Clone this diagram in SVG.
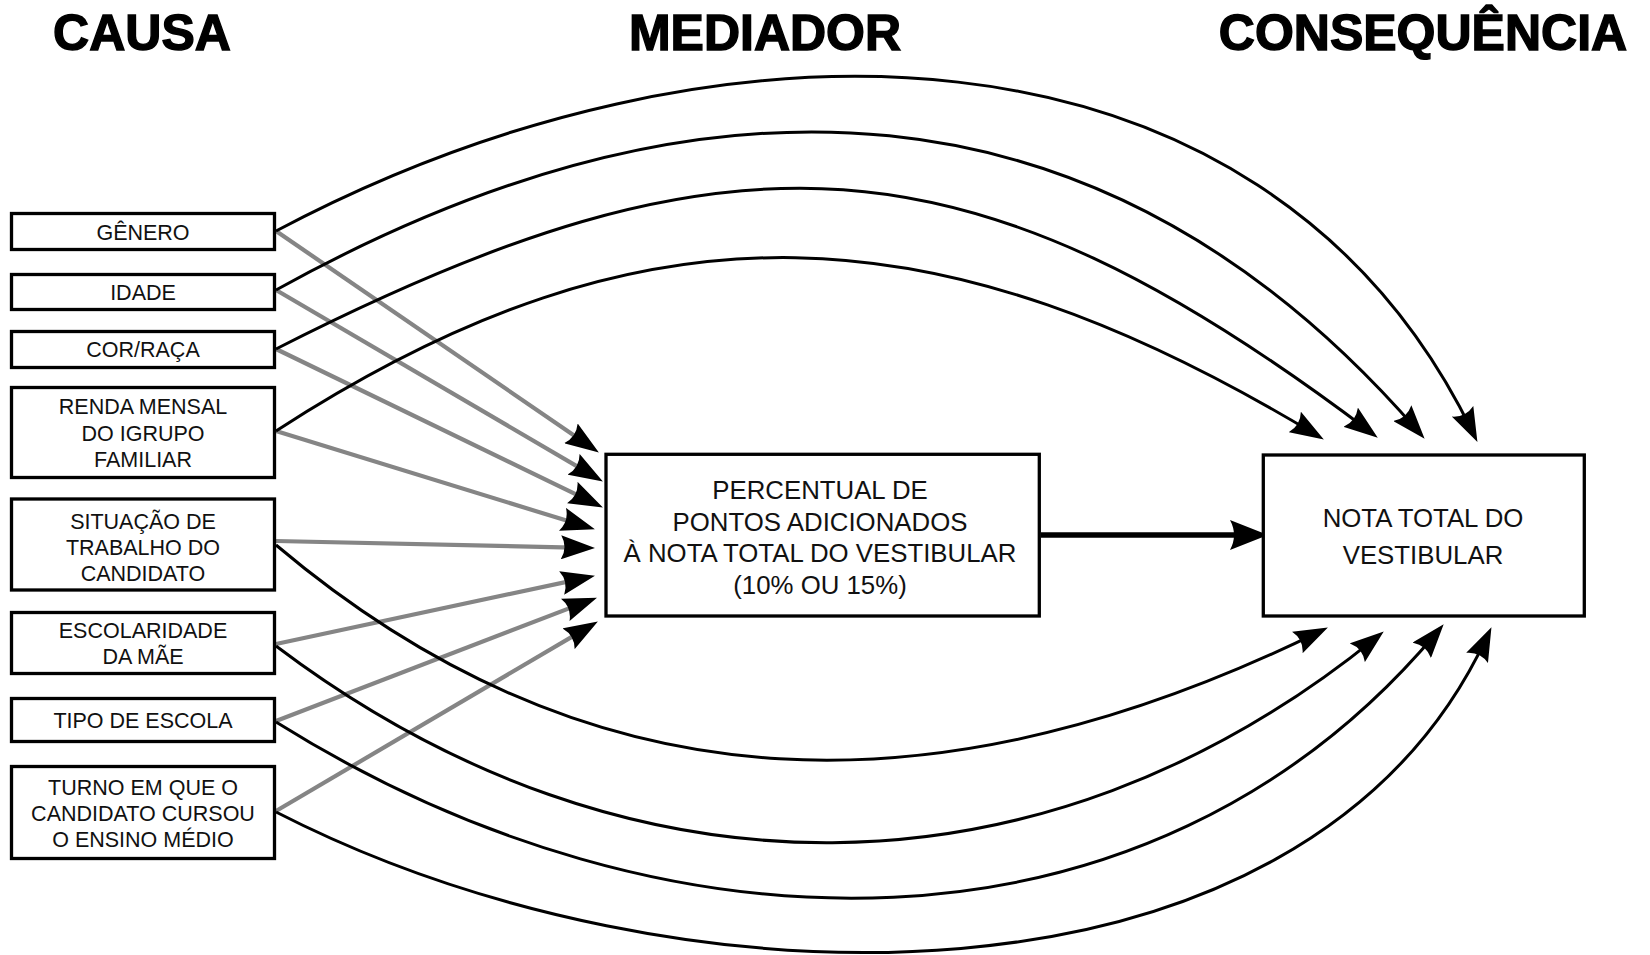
<svg xmlns="http://www.w3.org/2000/svg" width="1650" height="955" viewBox="0 0 1650 955">
<style>
.title{font-family:"Liberation Sans",Arial,sans-serif;font-weight:bold;font-size:50px;fill:#000;stroke:#000;stroke-width:1.4;text-anchor:middle}
.box{fill:#fff;stroke:#000;stroke-width:3.3}
.lbl{font-family:"Liberation Sans",Arial,sans-serif;font-size:21.5px;fill:#111;text-anchor:middle}
.big{font-family:"Liberation Sans",Arial,sans-serif;font-size:25.8px;fill:#111;text-anchor:middle}
.gray{fill:none;stroke:#858585;stroke-width:4.2;marker-end:url(#ah)}
.blk{fill:none;stroke:#000;stroke-width:3;marker-end:url(#ah)}
.thick{fill:none;stroke:#000;stroke-width:5.5;marker-end:url(#ahb)}
</style>
<defs>
<marker id="ah" markerUnits="userSpaceOnUse" markerWidth="34" markerHeight="24" viewBox="0 0 34 24" refX="23" refY="12" orient="auto">
<path d="M0,0 L34,12 L0,24 Q7,12 0,0Z" fill="#000"/>
</marker>
<marker id="ahb" markerUnits="userSpaceOnUse" markerWidth="38" markerHeight="30" viewBox="0 0 38 30" refX="27" refY="15" orient="auto">
<path d="M0,0 L38,15 L0,30 Q8,15 0,0Z" fill="#000"/>
</marker>
</defs>
<rect width="1650" height="955" fill="#fff"/>
<g id="titles">
<text class="title" x="142" y="49.5">CAUSA</text>
<text class="title" x="765" y="49.5">MEDIADOR</text>
<text class="title" x="1423" y="49.5">CONSEQUÊNCIA</text>
</g>
<g id="connectors">
<path class="gray" d="M276,231 L589.8,446.3"/>
<path class="gray" d="M276,290 L593.4,475.9"/>
<path class="gray" d="M276,349 L593,502.6"/>
<path class="gray" d="M276,431 L584.4,526.1"/>
<path class="gray" d="M276,541 L584,547.8"/>
<path class="gray" d="M276,644 L584.2,578.1"/>
<path class="gray" d="M276,721 L586.7,601.6"/>
<path class="gray" d="M276,811 L588.4,627.1"/>
<path class="blk" d="M276,231 C711,0 1261,-2 1472.6,432"/>
<path class="blk" d="M276,290 C704,53 1103,69 1417.4,430.5"/>
<path class="blk" d="M276,349 C731,117 969,129 1369,431"/>
<path class="blk" d="M276,431 C649,189 942,210 1314.4,433.8"/>
<path class="blk" d="M276,545 C599,818 948,813 1318,632.4"/>
<path class="blk" d="M276,646 C627,911 1042,908 1375.2,638.3"/>
<path class="blk" d="M276,722 C664,965 1148,976 1436.6,632.7"/>
<path class="blk" d="M276,812 C672,1015 1303,1031 1486.8,637.1"/>
<path class="thick" d="M1041,535 L1257,535"/>
</g>
<g id="n-genero"><rect class="box" x="11.5" y="213.5" width="263" height="36"/><text class="lbl" x="143" y="239.5">GÊNERO</text></g>
<g id="n-idade"><rect class="box" x="11.5" y="274.5" width="263" height="35"/><text class="lbl" x="143" y="299.5">IDADE</text></g>
<g id="n-cor"><rect class="box" x="11.5" y="331.5" width="263" height="36"/><text class="lbl" x="143" y="356.5">COR/RAÇA</text></g>
<g id="n-renda"><rect class="box" x="11.5" y="387.5" width="263" height="90"/><text class="lbl" x="143" y="414">RENDA MENSAL</text><text class="lbl" x="143" y="440.5">DO IGRUPO</text><text class="lbl" x="143" y="467">FAMILIAR</text></g>
<g id="n-situacao"><rect class="box" x="11.5" y="499" width="263" height="91"/><text class="lbl" x="143" y="529">SITUAÇÃO DE</text><text class="lbl" x="143" y="555">TRABALHO DO</text><text class="lbl" x="143" y="581">CANDIDATO</text></g>
<g id="n-escolaridade"><rect class="box" x="11.5" y="612.5" width="263" height="61"/><text class="lbl" x="143" y="638">ESCOLARIDADE</text><text class="lbl" x="143" y="664">DA MÃE</text></g>
<g id="n-tipo"><rect class="box" x="11.5" y="698.5" width="263" height="43"/><text class="lbl" x="143" y="727.5">TIPO DE ESCOLA</text></g>
<g id="n-turno"><rect class="box" x="11.5" y="766.5" width="263" height="92"/><text class="lbl" x="143" y="794.5">TURNO EM QUE O</text><text class="lbl" x="143" y="820.5">CANDIDATO CURSOU</text><text class="lbl" x="143" y="846.5">O ENSINO MÉDIO</text></g>
<g id="n-mediador"><rect class="box" x="606" y="454.3" width="433.3" height="161.7"/><text class="big" x="820" y="499">PERCENTUAL DE</text><text class="big" x="820" y="530.5">PONTOS ADICIONADOS</text><text class="big" x="820" y="562">À NOTA TOTAL DO VESTIBULAR</text><text class="big" x="820" y="593.5">(10% OU 15%)</text></g>
<g id="n-nota"><rect class="box" x="1263.3" y="455" width="321" height="161"/><text class="big" x="1423" y="527">NOTA TOTAL DO</text><text class="big" x="1423" y="564">VESTIBULAR</text></g>
</svg>
